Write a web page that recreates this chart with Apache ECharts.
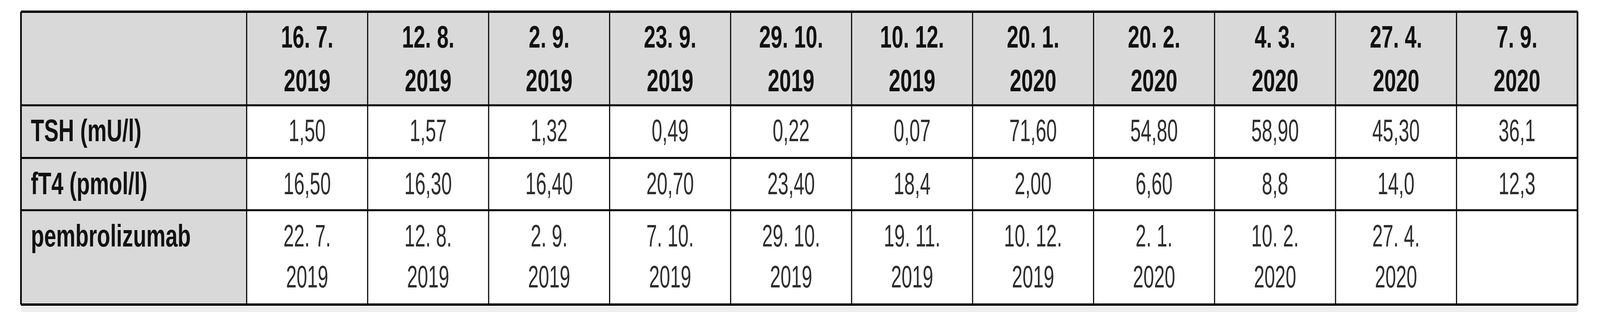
<!DOCTYPE html>
<html>
<head>
<meta charset="utf-8">
<script src="https://cdn.jsdelivr.net/npm/echarts@6/dist/echarts.min.js"></script>
<style>html,body{margin:0;padding:0;background:#fff;overflow:hidden}#main{width:100vw;height:100vh}</style>
</head>
<body>
<div id="main"></div>
<script>
// table content
var dates = ['16. 7.\n2019', '12. 8.\n2019', '2. 9.\n2019', '23. 9.\n2019', '29. 10.\n2019', '10. 12.\n2019',
  '20. 1.\n2020', '20. 2.\n2020', '4. 3.\n2020', '27. 4.\n2020', '7. 9.\n2020'];
var rowLabels = ['TSH (mU/l)', 'fT4 (pmol/l)', 'pembrolizumab'];
var tsh = ['1,50', '1,57', '1,32', '0,49', '0,22', '0,07', '71,60', '54,80', '58,90', '45,30', '36,1'];
var ft4 = ['16,50', '16,30', '16,40', '20,70', '23,40', '18,4', '2,00', '6,60', '8,8', '14,0', '12,3'];
var pembro = ['22. 7.\n2019', '12. 8.\n2019', '2. 9.\n2019', '7. 10.\n2019', '29. 10.\n2019', '19. 11.\n2019',
  '10. 12.\n2019', '2. 1.\n2020', '10. 2.\n2020', '27. 4.\n2020', ''];

var chart = echarts.init(document.getElementById('main'));
// scale the layout to whatever the page really is (designed for 5799x800)
var sx = chart.getWidth() / 5799, sy = chart.getHeight() / 800;
var left = 76, firstW = 818, colW = 438.5;
var rowY = [30, 270, 405, 539, 781];
var font = '"Liberation Sans", Arial, sans-serif';
var els = [];
var right = left + firstW + colW * dates.length;

// backgrounds
els.push({type: 'rect', shape: {x: left, y: rowY[0], width: right - left, height: rowY[1] - rowY[0]}, style: {fill: '#d9d9d9'}});
els.push({type: 'rect', shape: {x: left, y: rowY[1], width: firstW, height: rowY[4] - rowY[1]}, style: {fill: '#d9d9d9'}});
els.push({type: 'rect', shape: {x: left, y: rowY[4] + 4, width: right - left, height: 20}, style: {fill: '#eeeeee'}});

function cellText(x, y, txt, bold, color, align, lh, squeeze) {
  els.push({type: 'text', x: x, y: y, scaleX: squeeze, style: {text: txt, font: (bold ? 'bold ' : '') + '80px ' + font,
    fill: color, align: align, verticalAlign: 'middle', lineHeight: lh}});
}

dates.forEach(function (d, i) {
  var cx = left + firstW + colW * (i + 0.5);
  cellText(cx, 156, d, true, '#111', 'center', 112, 0.95);
  cellText(cx, 340, tsh[i], false, '#2e2e2e', 'center', 80, 0.86);
  cellText(cx, 476, ft4[i], false, '#2e2e2e', 'center', 80, 0.86);
  if (pembro[i]) cellText(cx, 662, pembro[i], false, '#2e2e2e', 'center', 105, 0.86);
});
cellText(left + 36, 340, rowLabels[0], true, '#111', 'left', 80, 0.98);
cellText(left + 36, 476, rowLabels[1], true, '#111', 'left', 80, 0.98);
cellText(left + 36, 610, rowLabels[2], true, '#111', 'left', 80, 0.98);

// grid lines
rowY.forEach(function (y, i) {
  els.push({type: 'line', shape: {x1: left, y1: y, x2: right, y2: y},
    style: {stroke: '#000', lineWidth: (i === 0 || i === 4) ? 6 : 5}});
});
for (var c = 0; c <= dates.length + 1; c++) {
  var x = c === 0 ? left : left + firstW + colW * (c - 1);
  els.push({type: 'line', shape: {x1: x, y1: rowY[0], x2: x, y2: rowY[4]},
    style: {stroke: '#000', lineWidth: (c === 0 || c === dates.length + 1) ? 6 : 4}});
}

chart.setOption({animation: false, graphic: {elements: [{type: 'group', scaleX: sx, scaleY: sy, children: els}]}});
</script>
</body>
</html>
